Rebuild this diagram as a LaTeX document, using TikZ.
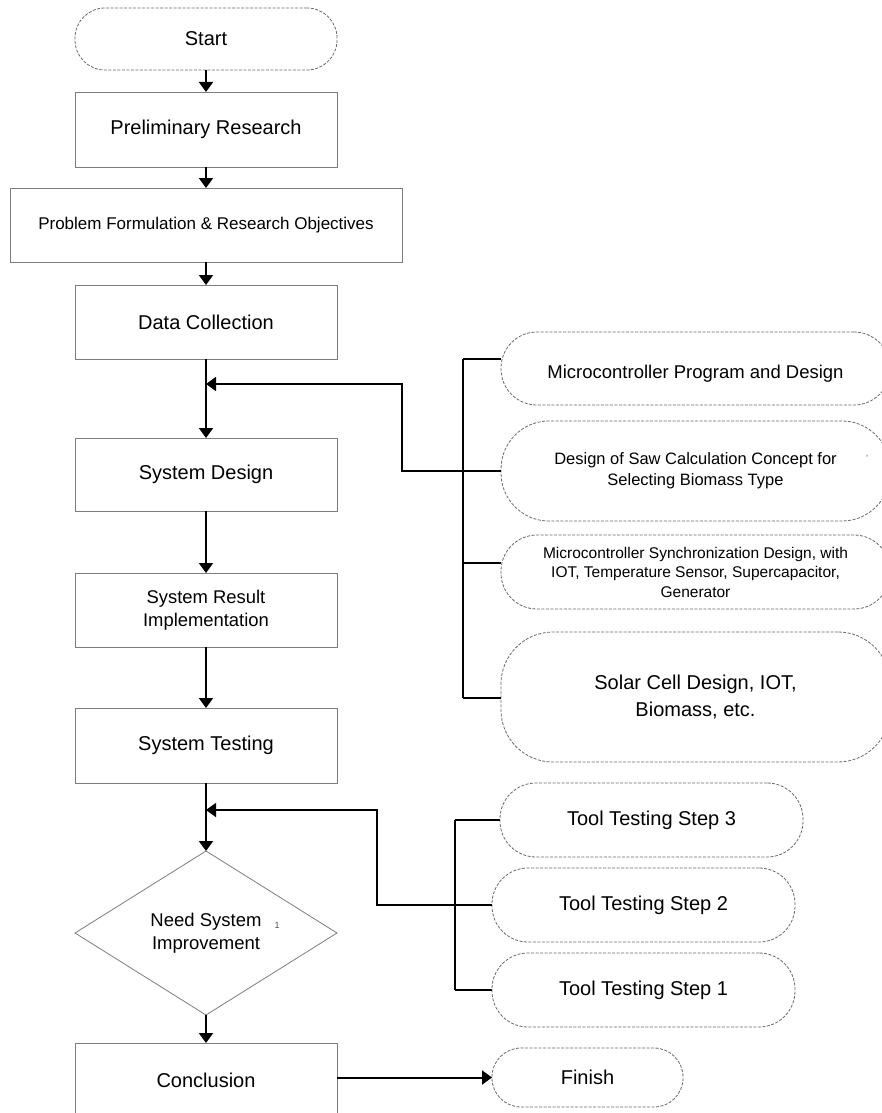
\documentclass[tikz,border=0pt]{standalone}
\usepackage{fontspec}
\setmainfont{Liberation Sans}
\usetikzlibrary{shapes.geometric,arrows.meta}
\definecolor{boxgray}{RGB}{125,125,125}
\definecolor{dashgray}{RGB}{105,105,105}
\begin{document}
\begin{tikzpicture}[x=1pt,y=-1pt,
  fs/.style={font=\fontsize{#1}{24}\selectfont},
  procbox/.style={draw=boxgray, line width=0.9pt, rectangle, inner sep=2pt, outer sep=0pt, align=center},
  termbox/.style={draw=dashgray, line width=0.8pt, dash pattern=on 3pt off 1.5pt, rectangle, rounded corners=#1, inner sep=2pt, outer sep=0pt, align=center},
  termbox/.default=30pt,
  flow/.style={line width=2pt, -{Triangle[width=14pt,length=10pt]}},
  link/.style={line width=1.4pt},
  stray/.style={text=black!70, inner sep=0pt, font=\fontsize{9}{9}\selectfont}
]
\useasboundingbox (0,0) rectangle (882,1113);
\clip (0,0) rectangle (882,1113);

% main column
\node[termbox=30pt, minimum width=262pt, minimum height=62pt, fs=20] (start) at (206,39) {Start};
\node[procbox, minimum width=262pt, minimum height=75pt, fs=20] (prelim) at (206,129.5) {Preliminary Research};
\node[procbox, minimum width=392pt, minimum height=74pt, fs=17] (problem) at (206,225) {Problem Formulation \& Research Objectives};
\node[procbox, minimum width=262pt, minimum height=74pt, fs=20] (data) at (206,322) {Data Collection};
\node[procbox, minimum width=262pt, minimum height=73pt, fs=20] (sysdesign) at (206,474.5) {System Design};
\node[procbox, minimum width=262pt, minimum height=74pt, font=\fontsize{18.4}{23}\selectfont] (sri) at (206,610) {System Result\\Implementation};
\node[procbox, minimum width=262pt, minimum height=75pt, fs=20] (systest) at (206,745.5) {System Testing};
\node[diamond, draw=boxgray, line width=0.8pt, minimum width=262pt, minimum height=164pt, inner sep=0pt, outer sep=0pt, align=center, font=\fontsize{18.5}{22.5}\selectfont] (need) at (206,933) {Need System\\Improvement};
\node[procbox, minimum width=262pt, minimum height=74pt, fs=20] (concl) at (206,1080) {Conclusion};
\node[termbox=29pt, minimum width=191pt, minimum height=59pt, fs=20] (finish) at (587.5,1077.5) {Finish};

% right column (design branch)
\node[termbox=36pt, minimum width=389pt, minimum height=73pt, text height=20pt, text depth=0pt, font=\fontsize{18.5}{22}\selectfont] (m1) at (695.5,368.5) {Microcontroller Program and Design};
\node[termbox=48pt, minimum width=389pt, minimum height=100pt, font=\fontsize{16.5}{21}\selectfont] (m2) at (695.5,471) {Design of Saw Calculation Concept for\\Selecting Biomass Type};
\node[termbox=36pt, minimum width=389pt, minimum height=74pt, font=\fontsize{15.5}{19.5}\selectfont] (m3) at (695.5,572) {Microcontroller Synchronization Design, with\\IOT, Temperature Sensor, Supercapacitor,\\Generator};
\node[termbox=52pt, minimum width=389pt, minimum height=130pt, font=\fontsize{20}{27}\selectfont] (m4) at (695.5,697) {Solar Cell Design, IOT,\\Biomass, etc.};

% tool testing
\node[termbox=36pt, minimum width=303pt, minimum height=74pt, fs=20] (t3) at (651.5,820) {Tool Testing Step 3};
\node[termbox=36pt, minimum width=303pt, minimum height=74pt, fs=20] (t2) at (643.5,905) {Tool Testing Step 2};
\node[termbox=36pt, minimum width=303pt, minimum height=74pt, fs=20] (t1) at (643.5,990) {Tool Testing Step 1};

% stray marks printed in the picture
\node[stray] (mark1) at (867,458) {'};
\node[stray] (mark2) at (277,925) {1};

% coordinates
\coordinate (j1) at (206,384);
\coordinate (j2) at (206,810);
\coordinate (b1) at (463,359);
\coordinate (b3) at (463,563);
\coordinate (b4) at (463,698);
\coordinate (c3) at (455,820);
\coordinate (c1) at (455,990);

% main arrows
\draw[flow] (start) -- (prelim);
\draw[flow] (prelim) -- (problem);
\draw[flow] (problem) -- (data);
\draw[flow] (data) -- (sysdesign);
\draw[flow] (sysdesign) -- (sri);
\draw[flow] (sri) -- (systest);
\draw[flow] (systest) -- (need);
\draw[flow] (need) -- (concl);
\draw[flow] (concl.east |- finish.west) -- (finish.west);

% design bracket and feedback
\draw[link] (b1) -- (b4);
\draw[link] (b1) -- (b1 -| m1.west);
\draw[link] (b3) -- (b3 -| m3.west);
\draw[link] (b4) -- (b4 -| m4.west);
\draw[flow, line width=1.6pt] (m2.west) -- (402,471) -- (402,384) -- (j1);

% testing bracket and feedback
\draw[link] (c3) -- (c1);
\draw[link] (c3) -- (t3.west);
\draw[link] (c1) -- (t1.west);
\draw[flow, line width=1.8pt] (t2.west) -- (377,905) -- (377,810) -- (j2);
\end{tikzpicture}
\end{document}
